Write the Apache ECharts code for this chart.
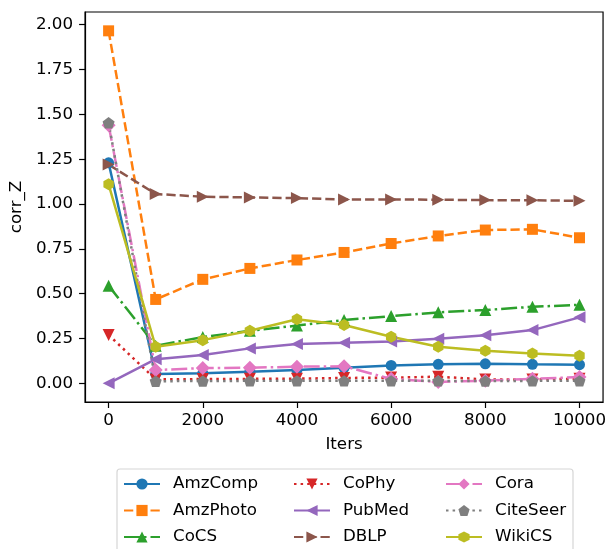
<!DOCTYPE html>
<html>
<head>
<meta charset="utf-8">
<script src="https://cdn.jsdelivr.net/npm/echarts@6/dist/echarts.min.js"></script>
<style>html,body{margin:0;padding:0;background:#fff;}#c{width:609px;height:549px;}</style>
</head>
<body>
<div id="c"></div>
<script>
const iters = [0, 1000, 2000, 3000, 4000, 5000, 6000, 7000, 8000, 9000, 10000];
const xTicks = [0, 2000, 4000, 6000, 8000, 10000];
const yTicks = [0, 0.25, 0.5, 0.75, 1.0, 1.25, 1.5, 1.75, 2.0];

const amzComp  = [1.23, 0.052, 0.056, 0.065, 0.074, 0.087, 0.100, 0.106, 0.109, 0.106, 0.104];
const amzPhoto = [1.966, 0.468, 0.580, 0.641, 0.688, 0.730, 0.780, 0.822, 0.855, 0.859, 0.812];
const coCS     = [0.545, 0.210, 0.258, 0.293, 0.322, 0.353, 0.375, 0.396, 0.409, 0.427, 0.438];
const coPhy    = [0.270, 0.022, 0.024, 0.025, 0.026, 0.030, 0.032, 0.037, 0.022, 0.022, 0.025];
const pubMed   = [0.000, 0.135, 0.158, 0.195, 0.219, 0.226, 0.234, 0.249, 0.268, 0.297, 0.368];
const dblp     = [1.220, 1.056, 1.041, 1.037, 1.033, 1.026, 1.026, 1.024, 1.022, 1.021, 1.018];
const cora     = [1.440, 0.074, 0.085, 0.087, 0.093, 0.095, 0.025, 0.008, 0.015, 0.025, 0.035];
const citeSeer = [1.453, 0.012, 0.013, 0.014, 0.014, 0.014, 0.014, 0.014, 0.013, 0.014, 0.014];
const wikiCS   = [1.110, 0.204, 0.241, 0.293, 0.357, 0.325, 0.260, 0.204, 0.182, 0.167, 0.154];

const FONT = 'DejaVu Sans';
const FS = 16.7;
const pentagon = 'path://M0,-1 L0.951,-0.309 L0.588,0.809 L-0.588,0.809 L-0.951,-0.309 Z';
const hexagon = 'path://M0,-1 L0.866,-0.5 L0.866,0.5 L0,1 L-0.866,0.5 L-0.866,-0.5 Z';
const DASHED = [9.25, 4];
const DOTTED = [2.5, 4.1];
const DASHDOT = [16, 4, 2.5, 4];

const defs = [
  {name: 'AmzComp', data: amzComp, color: '#1f77b4', dash: 'solid', symbol: 'circle', size: 11, rot: 0},
  {name: 'AmzPhoto', data: amzPhoto, color: '#ff7f0e', dash: DASHED, symbol: 'rect', size: 11, rot: 0},
  {name: 'CoCS', data: coCS, color: '#2ca02c', dash: DASHDOT, symbol: 'triangle', size: 12, rot: 0},
  {name: 'CoPhy', data: coPhy, color: '#d62728', dash: DOTTED, symbol: 'triangle', size: 12, rot: 180},
  {name: 'PubMed', data: pubMed, color: '#9467bd', dash: 'solid', symbol: 'triangle', size: 12, rot: 90},
  {name: 'DBLP', data: dblp, color: '#8c564b', dash: DASHED, symbol: 'triangle', size: 12, rot: -90},
  {name: 'Cora', data: cora, color: '#e377c2', dash: DASHDOT, symbol: 'diamond', size: 14, rot: 0},
  {name: 'CiteSeer', data: citeSeer, color: '#7f7f7f', dash: DOTTED, symbol: pentagon, size: 12, rot: 0},
  {name: 'WikiCS', data: wikiCS, color: '#bcbd22', dash: 'solid', symbol: hexagon, size: 12, rot: 0}
];

const series = defs.map(d => ({
  name: d.name,
  type: 'line',
  data: iters.map((x, i) => [x, d.data[i]]),
  symbol: d.symbol,
  symbolSize: d.size,
  symbolRotate: d.rot,
  symbolKeepAspect: true,
  showAllSymbol: true,
  animation: false,
  color: d.color,
  itemStyle: {color: d.color, borderWidth: 0},
  lineStyle: {color: d.color, width: 2.5, type: d.dash},
  emphasis: {disabled: true}
}));

const legendCommon = {
  orient: 'vertical',
  top: 474,
  padding: 0,
  itemWidth: 36,
  itemHeight: 14,
  itemGap: 6.5,
  selectedMode: false,
  textStyle: {fontFamily: FONT, fontSize: FS, color: '#000', lineHeight: 20, padding: [0, 0, 0, 8]}
};

const chart = echarts.init(document.getElementById('c'), null, {renderer: 'canvas'});
chart.setOption({
  backgroundColor: '#fff',
  animation: false,
  grid: {left: 84, right: 3, top: 12, bottom: 147, show: true, borderColor: '#000', borderWidth: 1.2, backgroundColor: 'transparent'},
  xAxis: {
    type: 'value', min: -500, max: 10500,
    name: 'Iters', nameLocation: 'middle', nameGap: 34,
    nameTextStyle: {fontFamily: FONT, fontSize: FS, color: '#000'},
    axisLine: {show: true, onZero: false, lineStyle: {color: '#000', width: 1.2}},
    axisTick: {show: true, length: 6, lineStyle: {color: '#000', width: 1.2}, customValues: xTicks},
    axisLabel: {fontFamily: FONT, fontSize: FS, color: '#000', margin: 10, customValues: xTicks, formatter: v => String(v)},
    splitLine: {show: false}
  },
  yAxis: {
    type: 'value', min: -0.104, max: 2.071,
    name: 'corr_Z', nameLocation: 'middle', nameGap: 60, nameRotate: 90,
    nameTextStyle: {fontFamily: FONT, fontSize: FS, color: '#000'},
    axisLine: {show: true, onZero: false, lineStyle: {color: '#000', width: 1.2}},
    axisTick: {show: true, length: 6, lineStyle: {color: '#000', width: 1.2}, customValues: yTicks},
    axisLabel: {fontFamily: FONT, fontSize: FS, color: '#000', margin: 12, customValues: yTicks, formatter: v => v.toFixed(2)},
    splitLine: {show: false}
  },
  legend: [
    Object.assign({left: 123, data: ['AmzComp', 'AmzPhoto', 'CoCS']}, legendCommon),
    Object.assign({left: 293, data: ['CoPhy', 'PubMed', 'DBLP']}, legendCommon),
    Object.assign({left: 445, data: ['Cora', 'CiteSeer', 'WikiCS']}, legendCommon)
  ],
  graphic: [{
    type: 'rect', z: -1,
    shape: {x: 117, y: 469, width: 456, height: 100, r: 3},
    style: {fill: '#fff', stroke: '#d6d6d6', lineWidth: 1.2}
  }],
  series: series
});
</script>
</body>
</html>
